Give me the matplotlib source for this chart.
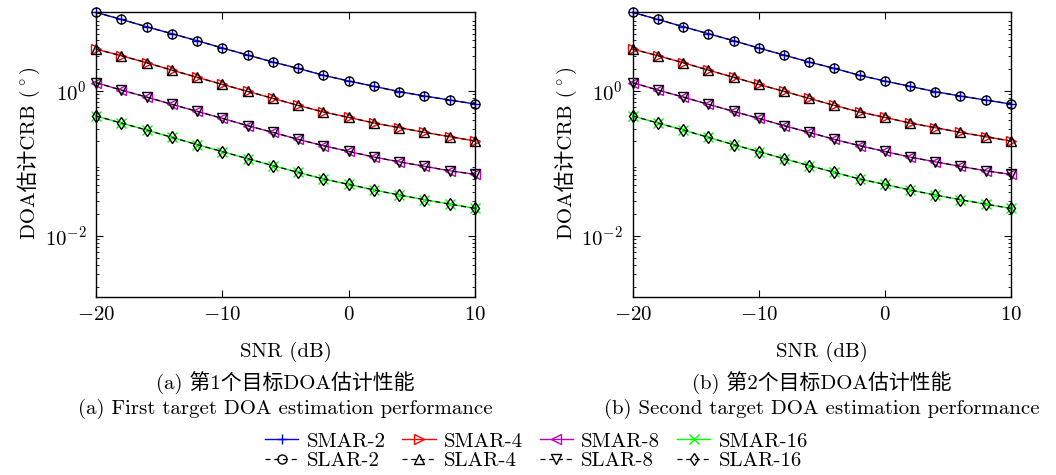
import numpy as np
import matplotlib
matplotlib.use("Agg")
from matplotlib import pyplot as plt
from matplotlib.ticker import LogLocator, NullFormatter, LogFormatterMathtext

plt.rcParams["font.family"] = ["cmr10", "Noto Sans CJK SC"]
plt.rcParams["mathtext.fontset"] = "cm"
plt.rcParams["axes.formatter.use_mathtext"] = True
plt.rcParams["font.size"] = 15

snr = np.arange(-20, 11, 2)

# CRB (deg) for first target
crb1_2 = [11.97, 9.59, 7.60, 6.09, 4.88, 3.87, 3.10, 2.48, 2.03, 1.63, 1.36, 1.15, 0.97, 0.845, 0.744, 0.656]
crb1_4 = [3.74, 3.03, 2.43, 1.92, 1.53, 1.22, 0.98, 0.784, 0.628, 0.509, 0.430, 0.359, 0.310, 0.267, 0.233, 0.203]
crb1_8 = [1.29, 1.02, 0.818, 0.649, 0.520, 0.416, 0.330, 0.267, 0.214, 0.175, 0.146, 0.122, 0.105, 0.091, 0.079, 0.0706]
crb1_16 = [0.448, 0.359, 0.288, 0.228, 0.181, 0.145, 0.116, 0.093, 0.0752, 0.0609, 0.0514, 0.0430, 0.0367, 0.0316, 0.0275, 0.0240]

# CRB (deg) for second target
crb2_2 = [11.97, 9.59, 7.60, 6.09, 4.88, 3.87, 3.10, 2.48, 2.03, 1.63, 1.36, 1.15, 0.97, 0.845, 0.744, 0.656]
crb2_4 = [3.74, 3.03, 2.43, 1.92, 1.53, 1.22, 0.98, 0.784, 0.628, 0.509, 0.430, 0.359, 0.310, 0.267, 0.233, 0.203]
crb2_8 = [1.29, 1.02, 0.818, 0.649, 0.520, 0.416, 0.330, 0.267, 0.214, 0.175, 0.146, 0.122, 0.105, 0.091, 0.079, 0.0706]
crb2_16 = [0.448, 0.359, 0.288, 0.228, 0.181, 0.145, 0.116, 0.093, 0.0752, 0.0609, 0.0514, 0.0430, 0.0367, 0.0316, 0.0275, 0.0240]

sizes = [2, 4, 8, 16]
smar_style = [("b", "+"), ("r", ">"), ("m", "<"), ("lime", "x")]
slar_marker = ["o", "^", "v", "d"]

captions = [
    ("(a) 第1个目标DOA估计性能", "(a) First target DOA estimation performance"),
    ("(b) 第2个目标DOA估计性能", "(b) Second target DOA estimation performance"),
]

W, H = 1056, 475


def draw(ax, curves):
    handles = []
    for n, y, (c, m), sm in zip(sizes, curves, smar_style, slar_marker):
        h1, = ax.plot(snr, y, color=c, marker=m, ms=6.5, mfc="none", lw=1,
                      clip_on=False, label=f"SMAR-{n}")
        h2, = ax.plot(snr, y, color="k", marker=sm, ms=6.5, mfc="none", lw=0.9,
                      ls=(0, (4, 3)), clip_on=False, label=f"SLAR-{n}")
        handles += [h1, h2]
    ax.set_yscale("log")
    ax.set_xlim(-20, 10)
    ax.set_ylim(1.46e-3, 12)
    ax.set_xticks([-20, -10, 0, 10])
    ax.yaxis.set_major_formatter(LogFormatterMathtext())
    ax.set_yticks([1e-2, 1e0])
    ax.yaxis.set_minor_locator(LogLocator(base=10, subs=np.arange(2, 10), numticks=20))
    ax.yaxis.set_minor_formatter(NullFormatter())
    ax.tick_params(which="both", direction="in", top=True, right=True)
    ax.tick_params(which="major", length=5, labelsize=15, pad=7)
    ax.tick_params(which="minor", length=2.5)
    for s in ax.spines.values():
        s.set_linewidth(1)
    return handles


def ylabel(fig, x_px, y_px):
    # cmr10 maps the degree sign to a ligature, so the unit goes in mathtext
    kw = dict(rotation=90, rotation_mode="anchor", ha="left", va="baseline")
    t1 = fig.text(x_px / W, 1 - y_px / H, "DOA估计CRB (", **kw)
    fig.canvas.draw()
    h = t1.get_window_extent().height
    fig.text(x_px / W, 1 - (y_px - h) / H, r"$^\circ$)", **kw)


fig = plt.figure(figsize=(10.56, 4.75), dpi=100)
ax1 = fig.add_axes([96 / W, 1 - 296.7 / H, 379 / W, 284.4 / H])
ax2 = fig.add_axes([632.7 / W, 1 - 296.7 / H, 378 / W, 284.4 / H])

handles = draw(ax1, [crb1_2, crb1_4, crb1_8, crb1_16])
draw(ax2, [crb2_2, crb2_4, crb2_8, crb2_16])

for ax, (zh, en) in zip([ax1, ax2], captions):
    pos = ax.get_position()
    xc = (pos.x0 + pos.x1) / 2
    fig.text(xc, 1 - 352 / H, "SNR (dB)", ha="center", va="center")
    fig.text(xc, 1 - 383 / H, zh, ha="center", va="center")
    fig.text(xc, 1 - 409 / H, en, ha="center", va="center")

ylabel(fig, 35, 239)
ylabel(fig, 572, 239)

fig.legend(handles=handles, loc="center", bbox_to_anchor=(0.508, 0.05), ncol=4,
           frameon=False, fontsize=15, handlelength=1.6, handletextpad=0.4,
           columnspacing=0.8, labelspacing=0.05, borderpad=0)

fig.savefig("out.png", dpi=100)
